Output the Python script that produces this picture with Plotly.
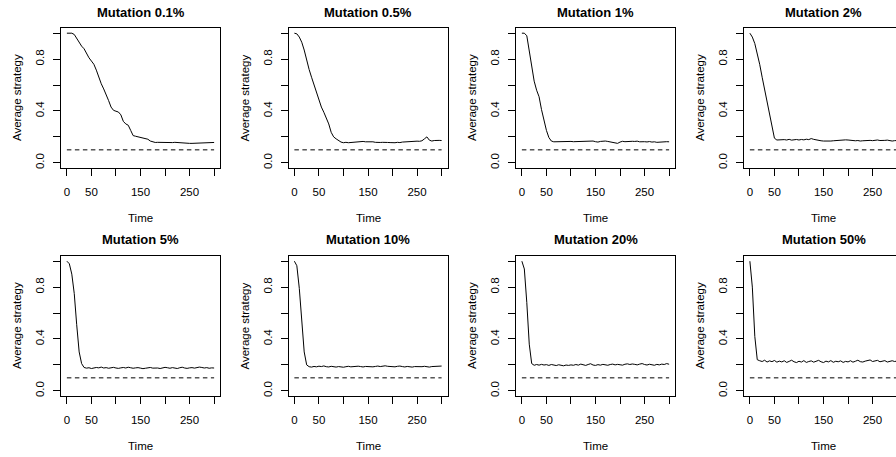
import plotly.graph_objects as go

# ---------------- data ----------------
time = list(range(0, 301, 5))

titles = ["Mutation 0.1%", "Mutation 0.5%", "Mutation 1%", "Mutation 2%",
          "Mutation 5%", "Mutation 10%", "Mutation 20%", "Mutation 50%"]

mut_01 = [1.0, 1.0, 1.0, 0.99, 0.96, 0.92, 0.90, 0.88, 0.84, 0.81,
          0.785, 0.76, 0.715, 0.66, 0.61, 0.57, 0.53, 0.48, 0.43, 0.405,
          0.398, 0.392, 0.37, 0.32, 0.30, 0.29, 0.25, 0.21, 0.205, 0.20,
          0.198, 0.195, 0.19, 0.182, 0.168, 0.16, 0.157, 0.158, 0.157, 0.156,
          0.158, 0.157, 0.158, 0.156, 0.158, 0.156, 0.154, 0.157, 0.154, 0.152,
          0.15, 0.15, 0.151, 0.153, 0.156, 0.157, 0.158, 0.156, 0.157, 0.156,
          0.157]

mut_05 = [1.0, 0.995, 0.97, 0.93, 0.87, 0.79, 0.72, 0.66, 0.60, 0.55,
          0.48, 0.43, 0.39, 0.35, 0.30, 0.235, 0.20, 0.185, 0.17, 0.16,
          0.155, 0.158, 0.155, 0.157, 0.156, 0.16, 0.158, 0.162, 0.165, 0.162,
          0.163, 0.16, 0.162, 0.158, 0.16, 0.157, 0.158, 0.16, 0.157, 0.156,
          0.153, 0.155, 0.158, 0.156, 0.16, 0.162, 0.163, 0.165, 0.163, 0.166,
          0.167, 0.166, 0.17, 0.185, 0.20, 0.175, 0.168, 0.172, 0.17, 0.173,
          0.172]

mut_1 = [1.0, 1.0, 0.98, 0.86, 0.75, 0.63, 0.56, 0.51, 0.41, 0.32,
         0.25, 0.195, 0.168, 0.162, 0.163, 0.161, 0.164, 0.162, 0.161, 0.163,
         0.165, 0.163, 0.164, 0.162, 0.166, 0.165, 0.168, 0.166, 0.165, 0.168,
         0.163, 0.16, 0.165, 0.167, 0.168, 0.165, 0.162, 0.158, 0.152, 0.15,
         0.16, 0.166, 0.163, 0.165, 0.162, 0.166, 0.165, 0.167, 0.162, 0.165,
         0.163, 0.161, 0.164, 0.16, 0.162, 0.158, 0.16, 0.161, 0.159, 0.163,
         0.162]

mut_2 = [1.0, 0.97, 0.92, 0.85, 0.76, 0.66, 0.56, 0.47, 0.37, 0.27,
         0.19, 0.176, 0.178, 0.175, 0.179, 0.176, 0.181, 0.175, 0.178, 0.18,
         0.176, 0.18, 0.177, 0.182, 0.179, 0.187, 0.181, 0.176, 0.172, 0.17,
         0.168, 0.167, 0.166, 0.168, 0.17, 0.172, 0.173, 0.175, 0.174, 0.177,
         0.176, 0.173, 0.171, 0.17, 0.172, 0.168, 0.17, 0.172, 0.175, 0.173,
         0.171, 0.174, 0.176, 0.172, 0.17, 0.173, 0.175, 0.17, 0.168, 0.171,
         0.172]

mut_5 = [1.0, 0.98, 0.90, 0.75, 0.51, 0.30, 0.21, 0.18, 0.175, 0.178,
         0.172, 0.176, 0.180, 0.177, 0.183, 0.176, 0.179, 0.174, 0.178, 0.181,
         0.176, 0.173, 0.177, 0.180, 0.176, 0.182, 0.178, 0.174, 0.177, 0.179,
         0.175, 0.171, 0.174, 0.177, 0.180, 0.175, 0.178, 0.176, 0.172, 0.177,
         0.181, 0.178, 0.174, 0.179, 0.176, 0.172, 0.178, 0.182, 0.176, 0.173,
         0.177, 0.179, 0.175, 0.178, 0.183, 0.180, 0.176, 0.179, 0.174, 0.177,
         0.176]

mut_10 = [1.0, 0.965, 0.79, 0.51, 0.30, 0.20, 0.186, 0.183, 0.188, 0.185,
          0.19, 0.187, 0.192, 0.186, 0.184, 0.189, 0.186, 0.183, 0.187, 0.185,
          0.182, 0.186, 0.189, 0.185, 0.188, 0.186, 0.19, 0.187, 0.184, 0.188,
          0.186, 0.189, 0.185, 0.188, 0.191, 0.187, 0.19, 0.193, 0.189, 0.186,
          0.188, 0.185, 0.189, 0.191, 0.187, 0.184, 0.188, 0.186, 0.183, 0.187,
          0.185, 0.188, 0.186, 0.189, 0.186, 0.183, 0.187, 0.189, 0.186, 0.19,
          0.191]

mut_20 = [1.0, 0.94, 0.68, 0.36, 0.21, 0.197, 0.203, 0.198, 0.204, 0.199,
          0.202, 0.196, 0.203, 0.199, 0.195, 0.201, 0.197, 0.193, 0.199, 0.196,
          0.2, 0.197, 0.203, 0.198, 0.206, 0.2, 0.196, 0.203, 0.209, 0.199,
          0.196, 0.202, 0.198, 0.204, 0.2, 0.197, 0.203, 0.206, 0.2, 0.204,
          0.201, 0.198, 0.205, 0.208, 0.203, 0.207, 0.204, 0.2, 0.206, 0.21,
          0.203, 0.199, 0.205, 0.201, 0.197, 0.204, 0.2, 0.206, 0.203, 0.21,
          0.205]

mut_50 = [1.0, 0.80, 0.42, 0.24, 0.232, 0.226, 0.236, 0.222, 0.231, 0.225,
          0.234, 0.221, 0.229, 0.223, 0.232, 0.219, 0.227, 0.236, 0.224, 0.218,
          0.228, 0.222, 0.233, 0.219, 0.226, 0.231, 0.221, 0.227, 0.235, 0.224,
          0.218, 0.229, 0.223, 0.233, 0.22, 0.228, 0.224, 0.231, 0.219, 0.227,
          0.223, 0.232, 0.221, 0.228, 0.236, 0.225, 0.222, 0.229, 0.233, 0.238,
          0.226, 0.231, 0.235, 0.224, 0.229, 0.233, 0.222, 0.228, 0.232, 0.226,
          0.23]

series = [mut_01, mut_05, mut_1, mut_2, mut_5, mut_10, mut_20, mut_50]

reference_level = 0.1
x_ticks = [0, 50, 100, 150, 200, 250, 300]
x_tick_text = ["0", "50", "", "150", "", "250", ""]
y_ticks = [0.0, 0.2, 0.4, 0.6, 0.8, 1.0]
y_tick_text = ["0.0", "", "0.4", "", "0.8", ""]

# ---------------- layout geometry (pixels) ----------------
W, H = 896, 457
box_w = 159
col_left = [61, 288.5, 516, 744]
row_top = [28, 256]
box_h = 140
x_min, x_max = -12, 312
y_rng = [-0.04, 1.04]

FONT = "Liberation Sans, Arial, sans-serif"
TXT = 11.5

fig = go.Figure()
layout = dict(
    width=W, height=H, margin=dict(l=0, r=0, t=0, b=0),
    paper_bgcolor="white", plot_bgcolor="white", showlegend=False,
    font=dict(family=FONT, color="black", size=TXT),
)
annotations = []

for i, (vals, title) in enumerate(zip(series, titles)):
    r, c = divmod(i, 4)
    k = "" if i == 0 else str(i + 1)
    left = col_left[c]
    right = min(left + box_w, W)
    xr = [x_min, x_min + (right - left) * (x_max - x_min) / box_w]
    top = row_top[r]
    bottom = top + box_h

    fig.add_trace(go.Scatter(x=time, y=vals, mode="lines",
                             line=dict(color="black", width=1),
                             xaxis="x" + k, yaxis="y" + k, hoverinfo="skip"))
    fig.add_trace(go.Scatter(x=[time[0], time[-1]], y=[reference_level, reference_level],
                             mode="lines",
                             line=dict(color="black", width=1, dash="4.5px,3.5px"),
                             xaxis="x" + k, yaxis="y" + k, hoverinfo="skip"))

    layout["xaxis" + k] = dict(
        domain=[left / W, right / W], range=xr, anchor="y" + k,
        showline=True, mirror=True, linecolor="black", linewidth=1,
        ticks="outside", ticklen=7, tickcolor="black", tickwidth=1,
        tickvals=x_ticks, ticktext=x_tick_text, ticklabelstandoff=6,
        showgrid=False, zeroline=False,
        tickfont=dict(family=FONT, size=TXT, color="black"),
    )
    layout["yaxis" + k] = dict(
        domain=[1 - bottom / H, 1 - top / H], range=y_rng, anchor="x" + k,
        showline=True, mirror=(c != 3), linecolor="black", linewidth=1,
        ticks="outside", ticklen=7, tickcolor="black", tickwidth=1,
        tickvals=y_ticks, ticktext=y_tick_text, tickangle=-90,
        ticklabelstandoff=4,
        showgrid=False, zeroline=False,
        tickfont=dict(family=FONT, size=TXT, color="black"),
    )

    cx = (left + left + box_w) / 2 / W
    annotations.append(dict(text="<b>" + title + "</b>", x=cx, y=1 - (top - 16) / H,
                            xref="paper", yref="paper", showarrow=False,
                            xanchor="center", yanchor="middle",
                            font=dict(family=FONT, size=13, color="black")))
    annotations.append(dict(text="Time", x=cx, y=1 - (bottom + 50) / H,
                            xref="paper", yref="paper", showarrow=False,
                            xanchor="center", yanchor="middle",
                            font=dict(family=FONT, size=TXT, color="black")))
    annotations.append(dict(text="Average strategy", x=(left - 44) / W,
                            y=1 - (top + box_h / 2) / H,
                            xref="paper", yref="paper", showarrow=False,
                            textangle=-90, xanchor="center", yanchor="middle",
                            font=dict(family=FONT, size=TXT, color="black")))

layout["annotations"] = annotations
fig.update_layout(**layout)
fig.write_html("out.html")
